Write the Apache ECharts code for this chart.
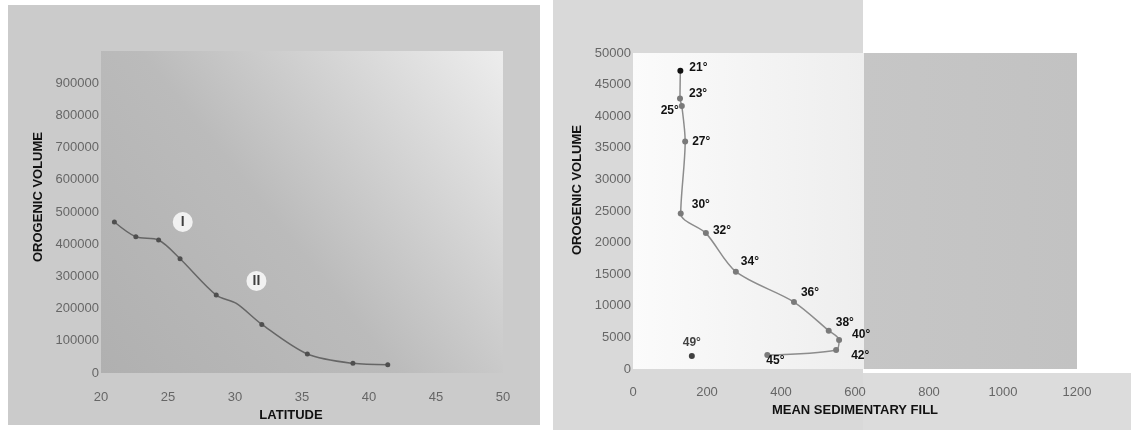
<!DOCTYPE html>
<html>
<head>
<meta charset="utf-8">
<script src="https://cdn.jsdelivr.net/npm/echarts@6/dist/echarts.min.js"></script>
<style>
  html, body { margin: 0; padding: 0; background: #fff; }
  #chart { width: 1131px; height: 430px; }
</style>
</head>
<body>
<div id="chart"></div>
<script>
// Left panel: orogenic volume against latitude
const latitude = [21, 22.6, 24.3, 25.9, 28.6, 30.1, 32.0, 35.4, 38.8, 41.4]
const volumeByLat = [469000, 423000, 413000, 355000, 242000, 216000, 151000, 59000, 30000, 26000]
const latMarker = [true, true, true, true, true, false, true, true, true, true]
const zoneNames = ['I', 'II']
const zoneLat = [26.1, 31.6]
const zoneVol = [469000, 286000]

// Right panel: orogenic volume against mean sedimentary fill, one point per latitude
const fillLabels = ['21°', '23°', '25°', '27°', '30°', '32°', '34°', '36°', '38°', '40°', '42°', '45°']
const meanFill = [128, 127, 132, 141, 129, 197, 278, 435, 529, 557, 549, 363]
const fillVolume = [47200, 42800, 41600, 36000, 24600, 21500, 15400, 10600, 6060, 4590, 3000, 2210]
const outlierLabel = '49°'
const outlierFill = 159
const outlierVolume = 2060

const FONT = '"Liberation Sans", Arial, sans-serif'

// where each degree label sits relative to its point
const labelPlacement = {
  '21°': { position: 'right', distance: 6, offset: [0, -3] },
  '23°': { position: 'right', distance: 6, offset: [0, -5] },
  '25°': { position: 'left', distance: 0, offset: [0, 5] },
  '27°': { position: 'right', distance: 4, offset: [0, 0] },
  '30°': { position: 'right', distance: 8, offset: [0, -9] },
  '32°': { position: 'right', distance: 4, offset: [0, -2] },
  '34°': { position: 'right', distance: 2, offset: [0, -10] },
  '36°': { position: 'right', distance: 4, offset: [0, -9] },
  '38°': { position: 'right', distance: 4, offset: [0, -8] },
  '40°': { position: 'right', distance: 10, offset: [0, -5] },
  '42°': { position: 'right', distance: 12, offset: [0, 6] },
  '45°': { position: 'right', distance: -4, offset: [0, 6] },
  '49°': { position: 'top', distance: 4, offset: [0, 0] },
}

const tickLabel = { color: '#666', fontSize: 13, fontFamily: FONT }
const axisName = { color: '#111', fontSize: 13, fontWeight: 'bold', fontFamily: FONT }
const degreeText = { color: '#111', fontSize: 12, fontWeight: 'bold', fontFamily: FONT }
const plain = v => String(v)

function valueAxis(extra) {
  return Object.assign({
    type: 'value',
    axisLine: { show: false },
    axisTick: { show: false },
    splitLine: { show: false },
  }, extra)
}

const chart = echarts.init(document.getElementById('chart'))

chart.setOption({
  animation: false,
  backgroundColor: '#fff',
  graphic: [
    { type: 'rect', z: -10, shape: { x: 8, y: 5, width: 532, height: 420 }, style: { fill: '#cbcbcb' } },
    { type: 'rect', z: -10, shape: { x: 553, y: 0, width: 310, height: 430 }, style: { fill: '#d9d9d9' } },
    { type: 'rect', z: -10, shape: { x: 863, y: 373, width: 268, height: 57 }, style: { fill: '#dcdcdc' } },
  ],
  grid: [
    {
      left: 101, right: 628, top: 51, bottom: 57,
      show: true, borderWidth: 0,
      backgroundColor: {
        type: 'linear', x: 0, y: 1, x2: 1, y2: 0,
        colorStops: [
          { offset: 0, color: '#b0b0b0' },
          { offset: 0.45, color: '#bbbbbb' },
          { offset: 1, color: '#ededed' },
        ],
      },
    },
    {
      left: 633, right: 54, top: 53, bottom: 61,
      show: true, borderWidth: 0,
      backgroundColor: {
        type: 'linear', x: 0, y: 0, x2: 1, y2: 0,
        colorStops: [
          { offset: 0, color: '#fbfbfb' },
          { offset: 0.52, color: '#eeeeee' },
          { offset: 0.52, color: '#c6c6c6' },
          { offset: 1, color: '#c2c2c2' },
        ],
      },
    },
  ],
  xAxis: [
    valueAxis({
      gridIndex: 0, min: 20, max: 50, interval: 5,
      axisLabel: Object.assign({ margin: 18, formatter: plain }, tickLabel),
      name: 'LATITUDE', nameLocation: 'middle', nameGap: 32,
      nameTextStyle: Object.assign({ padding: [0, 22, 0, 0] }, axisName),
    }),
    valueAxis({
      gridIndex: 1, min: 0, max: 1200, interval: 200,
      axisLabel: Object.assign({ margin: 17, formatter: plain }, tickLabel),
      name: 'MEAN SEDIMENTARY FILL', nameLocation: 'middle', nameGap: 33,
      nameTextStyle: axisName,
    }),
  ],
  yAxis: [
    valueAxis({
      gridIndex: 0, min: 0, max: 1000000, interval: 100000,
      axisLabel: Object.assign({ margin: 2, showMaxLabel: false, formatter: plain }, tickLabel),
      name: 'OROGENIC VOLUME', nameLocation: 'middle', nameGap: 56,
      nameTextStyle: Object.assign({ padding: [0, 0, 0, 30] }, axisName),
    }),
    valueAxis({
      gridIndex: 1, min: 0, max: 50000, interval: 5000,
      axisLabel: Object.assign({ margin: 2, formatter: plain }, tickLabel),
      name: 'OROGENIC VOLUME', nameLocation: 'middle', nameGap: 49,
      nameTextStyle: Object.assign({ padding: [0, 0, 0, 42] }, axisName),
    }),
  ],
  series: [
    {
      type: 'line',
      xAxisIndex: 0, yAxisIndex: 0,
      smooth: 0.3,
      symbol: 'circle', symbolSize: 5,
      lineStyle: { color: '#666', width: 1.5 },
      itemStyle: { color: '#4f4f4f' },
      data: latitude.map((x, i) => ({
        value: [x, volumeByLat[i]],
        symbolSize: latMarker[i] ? 5 : 0,
      })),
    },
    {
      type: 'scatter',
      xAxisIndex: 0, yAxisIndex: 0,
      symbol: 'circle', symbolSize: 20,
      itemStyle: { color: '#fff' },
      label: {
        show: true, position: 'inside', color: '#111', fontSize: 14,
        fontWeight: 'bold', fontFamily: FONT, formatter: p => p.name,
      },
      data: zoneNames.map((n, i) => ({ name: n, value: [zoneLat[i], zoneVol[i]] })),
    },
    {
      type: 'line',
      xAxisIndex: 1, yAxisIndex: 1,
      smooth: 0.3,
      symbol: 'circle', symbolSize: 6,
      lineStyle: { color: '#8c8c8c', width: 1.5 },
      itemStyle: { color: '#7a7a7a' },
      label: Object.assign({ show: true, formatter: p => p.name }, degreeText),
      data: meanFill.map((x, i) => {
        const name = fillLabels[i]
        const item = { name, value: [x, fillVolume[i]], label: labelPlacement[name] }
        if (i === 0) item.itemStyle = { color: '#111' }
        return item
      }),
    },
    {
      type: 'scatter',
      xAxisIndex: 1, yAxisIndex: 1,
      symbol: 'circle', symbolSize: 6,
      itemStyle: { color: '#111' },
      label: Object.assign({ show: true, formatter: p => p.name }, degreeText, labelPlacement[outlierLabel]),
      data: [{ name: outlierLabel, value: [outlierFill, outlierVolume] }],
    },
  ],
})
</script>
</body>
</html>
